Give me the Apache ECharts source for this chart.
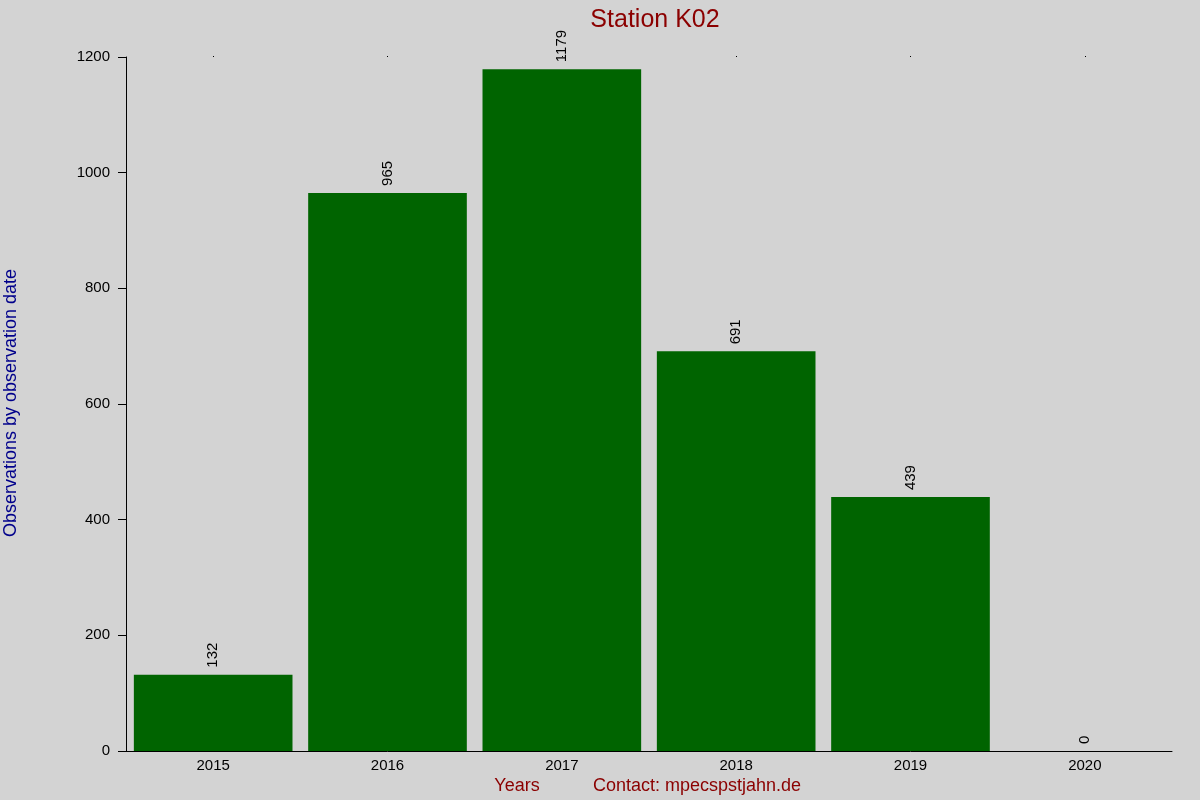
<!DOCTYPE html>
<html><head><meta charset="utf-8">
<script src="https://cdn.jsdelivr.net/npm/echarts@6/dist/echarts.min.js"></script>
<style>html,body{margin:0;padding:0;background:#d3d3d3;}#c{width:1200px;height:800px;}</style>
</head><body><div id="c"></div>
<script>
const categories = ['2015','2016','2017','2018','2019','2020'];
const values = [132, 965, 1179, 691, 439, 0];
const yTicks = [0, 200, 400, 600, 800, 1000, 1200];

const chart = echarts.init(document.getElementById('c'));
const font = 'Liberation Sans, Arial, sans-serif';
chart.setOption({
  backgroundColor: '#d3d3d3',
  animation: false,
  textStyle: { fontFamily: font },
  title: {
    text: 'Station K02', left: 650, top: 3, textAlign: 'center',
    textStyle: { color: '#8b0000', fontSize: 25, fontWeight: 'normal', fontFamily: font }
  },
  grid: { left: 126, right: 28, top: 57, bottom: 49 },
  xAxis: [{
    type: 'category', data: categories,
    axisLine: { show: true, lineStyle: { color: '#000', width: 1 } },
    axisTick: { show: false },
    axisLabel: { color: '#000', fontSize: 15, margin: 7, fontFamily: font }
  }, {
    type: 'category', data: categories, position: 'top',
    axisLine: { show: false },
    axisTick: { show: true, alignWithLabel: true, length: 1, lineStyle: { color: '#000' } },
    axisLabel: { show: false }
  }],
  yAxis: {
    type: 'value', min: yTicks[0], max: yTicks[yTicks.length - 1], interval: 200,
    axisLine: { show: true, lineStyle: { color: '#000', width: 1 } },
    axisTick: { show: true, length: 8, lineStyle: { color: '#000' } },
    axisLabel: { color: '#000', fontSize: 15, margin: 16, fontFamily: font, formatter: v => String(v) },
    splitLine: { show: false }
  },
  series: [{
    type: 'bar', data: values, barCategoryGap: '9%',
    itemStyle: { color: '#006400' },
    label: {
      show: true, position: 'top', rotate: 90, align: 'left', verticalAlign: 'middle',
      distance: 7, color: '#000', fontSize: 15, fontFamily: font
    }
  }],
  graphic: [
    { type: 'text', x: 2, y: 403, rotation: Math.PI / 2,
      style: { text: 'Observations by observation date', fill: '#00008b', fontSize: 18, fontFamily: font, align: 'center', verticalAlign: 'top' } },
    { type: 'text', x: 517, y: 786,
      style: { text: 'Years', fill: '#8b0000', fontSize: 18, fontFamily: font, align: 'center', verticalAlign: 'middle' } },
    { type: 'text', x: 697, y: 786,
      style: { text: 'Contact: mpecspstjahn.de', fill: '#8b0000', fontSize: 18, fontFamily: font, align: 'center', verticalAlign: 'middle' } }
  ]
});
</script></body></html>
